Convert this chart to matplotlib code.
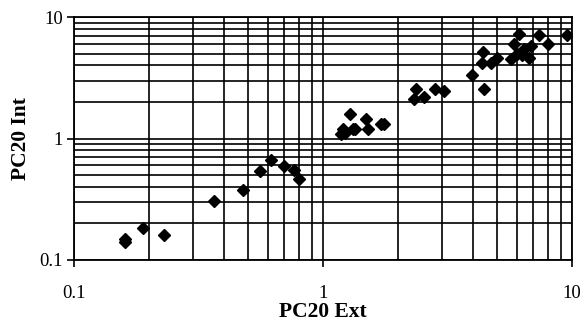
import matplotlib
matplotlib.use("Agg")
import matplotlib.pyplot as plt
from matplotlib.ticker import LogLocator, FixedLocator, FixedFormatter, NullFormatter

pc20_ext = [0.16, 0.16, 0.189, 0.23, 0.364, 0.476, 0.56, 0.62, 0.70, 0.764, 0.80,
            1.18, 1.20, 1.22, 1.28, 1.32, 1.35, 1.49, 1.51, 1.71, 1.76,
            2.31, 2.36, 2.55, 2.82, 3.07,
            3.98, 4.42, 4.40, 4.34, 4.72, 5.0, 5.67, 5.85, 6.13, 6.42, 6.73, 6.83,
            7.38, 8.04, 9.58, 6.0, 6.3]
pc20_int = [0.141, 0.149, 0.184, 0.161, 0.307, 0.379, 0.537, 0.66, 0.59, 0.555, 0.465,
            1.08, 1.19, 1.12, 1.6, 1.19, 1.2, 1.44, 1.2, 1.31, 1.31,
            2.13, 2.54, 2.21, 2.54, 2.46,
            3.32, 2.57, 5.2, 4.22, 4.22, 4.64, 4.5, 5.98, 7.24, 5.44, 4.64, 5.79,
            7.08, 5.98, 7.08, 5.0, 4.9]

tick_vals = [0.1, 1, 10]
tick_labels = ["0.1", "1", "10"]

plt.rcParams['font.family'] = ['Liberation Serif', 'DejaVu Serif']

fig = plt.figure(figsize=(5.84, 3.30), dpi=100)
ax = fig.add_axes([74/584, 1-260/330, (572-74)/584, (260-17)/330])
ax.set_xscale('log')
ax.set_yscale('log')
ax.set_xlim(0.1, 10)
ax.set_ylim(0.1, 10)

ax.plot(pc20_ext, pc20_int, linestyle='none', marker='D', markersize=6.5,
        color='black', zorder=3)

ax.xaxis.set_major_locator(FixedLocator(tick_vals))
ax.xaxis.set_major_formatter(FixedFormatter(tick_labels))
ax.yaxis.set_major_locator(FixedLocator(tick_vals))
ax.yaxis.set_major_formatter(FixedFormatter(tick_labels))
for axis in (ax.xaxis, ax.yaxis):
    axis.set_minor_locator(LogLocator(base=10, subs=range(2, 10)))
    axis.set_minor_formatter(NullFormatter())

ax.grid(True, which='both', color='black', linewidth=1.2)
ax.tick_params(which='major', direction='out', length=5, width=1.2,
               labelsize=13.5)
ax.tick_params(axis='x', which='major', pad=13)
ax.tick_params(axis='y', which='major', pad=3)
ax.tick_params(which='minor', length=0)
for s in ax.spines.values():
    s.set_linewidth(1.3)

ax.set_xlabel("PC20 Ext", fontsize=15.5, fontweight='bold', labelpad=0)
ax.set_ylabel("PC20 Int", fontsize=15.5, fontweight='bold', labelpad=6)

fig.savefig("out.png", dpi=100)
